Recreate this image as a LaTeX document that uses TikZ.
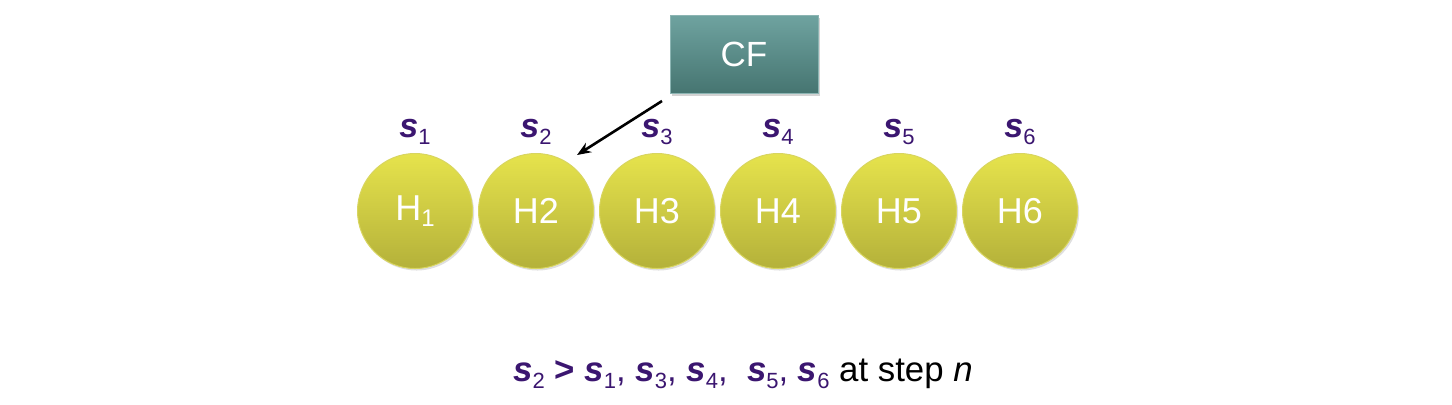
\documentclass[tikz,border=0pt]{standalone}
\usepackage{fontspec}
\setmainfont{Liberation Sans}
\usetikzlibrary{shadows,arrows.meta}
\definecolor{spurple}{HTML}{3B1670}
\definecolor{htop}{HTML}{E6E34C}
\definecolor{hbot}{HTML}{B4B13A}
\definecolor{hedge}{HTML}{D8D560}
\definecolor{cftop}{HTML}{6FA3A0}
\definecolor{cfbot}{HTML}{467571}
\newcommand\sv[1]{{\color{spurple}\textbf{\textit{s}}\raisebox{-0.35ex}{\fontsize{11}{11}\selectfont #1}}}
\newcommand\hsub[1]{\raisebox{-0.35ex}{\fontsize{12}{12}\selectfont #1}}
\newcommand\pc{{\color{spurple},}}
\begin{document}
\begin{tikzpicture}[x=0.5pt,y=-0.5pt,
  hcirc/.style={circle, minimum size=57.5pt, inner sep=0pt, top color=htop, bottom color=hbot,
    draw=hedge, line width=0.5pt, text=white, font=\fontsize{18}{20}\selectfont,
    drop shadow={shadow xshift=0.8pt, shadow yshift=-1pt, opacity=0.25}},
  cfbox/.style={rectangle, minimum width=74pt, minimum height=39pt, inner sep=0pt,
    top color=cftop, bottom color=cfbot, draw=cftop!80!white, line width=0.4pt,
    text=white, font=\fontsize{17.5}{20}\selectfont,
    drop shadow={shadow xshift=1pt, shadow yshift=-1.5pt, opacity=0.35}},
  slab/.style={font=\fontsize{17}{20}\selectfont, inner sep=0pt},
  arr/.style={-{Stealth[length=7pt,width=5.5pt]}, line width=1.3pt, black}
]
\useasboundingbox (0,0) rectangle (1452,404);
\node[cfbox] (cf) at (744,54) {CF};
\node[hcirc] (h1) at (415,211) {H\hsub{1}};
\node[hcirc] (h2) at (536,211) {H2};
\node[hcirc] (h3) at (657,211) {H3};
\node[hcirc] (h4) at (778,211) {H4};
\node[hcirc] (h5) at (899,211) {H5};
\node[hcirc] (h6) at (1020,211) {H6};
\node[slab] (s1) at (415,132) {\sv{1}};
\node[slab] (s2) at (536,132) {\sv{2}};
\node[slab] (s3) at (657,132) {\sv{3}};
\node[slab] (s4) at (778,132) {\sv{4}};
\node[slab] (s5) at (899,132) {\sv{5}};
\node[slab] (s6) at (1020,132) {\sv{6}};
\coordinate (a1) at (662,101);
\coordinate (a2) at (577,155);
\draw[arr] (a1) -- (a2);
\node[font=\fontsize{17.4}{20}\selectfont, inner sep=0pt] (cap) at (743,374)
  {\sv{2} {\color{spurple}\textbf{>}} \sv{1}\pc{} \sv{3}\pc{} \sv{4}\pc{} \ \sv{5}\pc{} \sv{6} at step \textit{n}};
\end{tikzpicture}
\end{document}
